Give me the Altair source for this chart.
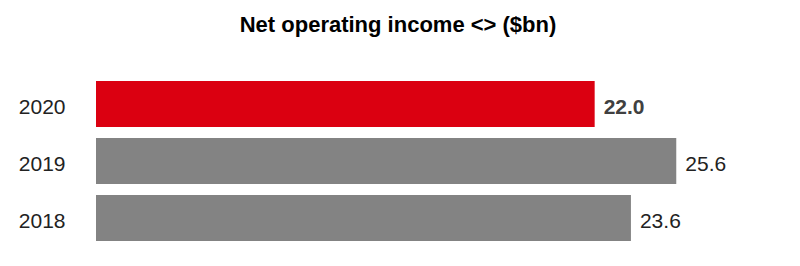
import altair as alt
import pandas as pd

years = ["2020", "2019", "2018"]
values = [22.0, 25.6, 23.6]
highlight = [True, False, False]

df = pd.DataFrame({"year": years, "value": values, "hl": highlight})
df["label"] = df["value"].map(lambda v: f"{v:.1f}")

FONT = "Liberation Sans"

y_enc = alt.Y(
    "year:N",
    sort=years,
    title=None,
    scale=alt.Scale(paddingInner=0.19, paddingOuter=0),
    axis=alt.Axis(
        ticks=False,
        domain=False,
        labelFont=FONT,
        labelFontSize=21,
        labelColor="#222222",
        labelPadding=31,
        labelBaseline="alphabetic",
        labelOffset=10,
    ),
)
x_enc = alt.X(
    "value:Q",
    scale=alt.Scale(domain=[0, 30], nice=False, zero=True),
    axis=None,
)

base = alt.Chart(df)

bars = base.mark_bar().encode(
    x=x_enc,
    y=y_enc,
    color=alt.Color(
        "hl:N",
        scale=alt.Scale(domain=[True, False], range=["#DB0011", "#838383"]),
        legend=None,
    ),
)

text_bold = base.transform_filter("datum.hl").mark_text(
    align="left", baseline="alphabetic", dx=9, dy=10,
    font=FONT, fontSize=21, fontWeight="bold", color="#404040",
).encode(x=x_enc, y=y_enc, text="label:N")

text_reg = base.transform_filter("!datum.hl").mark_text(
    align="left", baseline="alphabetic", dx=9, dy=10,
    font=FONT, fontSize=21, color="#222222",
).encode(x=x_enc, y=y_enc, text="label:N")

chart = alt.layer(bars, text_bold, text_reg).properties(
    width=680,
    height=160,
    background="#ffffff",
    title=alt.TitleParams(
        "Net operating income <> ($bn)",
        font=FONT,
        fontSize=22,
        fontWeight="bold",
        color="#000000",
        anchor="middle",
        baseline="alphabetic",
        offset=27,
        dx=-38,
    ),
    autosize=alt.AutoSizeParams(type="none"),
    padding={"left": 96, "top": 81, "right": 24, "bottom": 25},
).configure_view(strokeWidth=0, stroke="transparent")

chart.save("out.html", embed_options={"renderer": "svg", "actions": False})
